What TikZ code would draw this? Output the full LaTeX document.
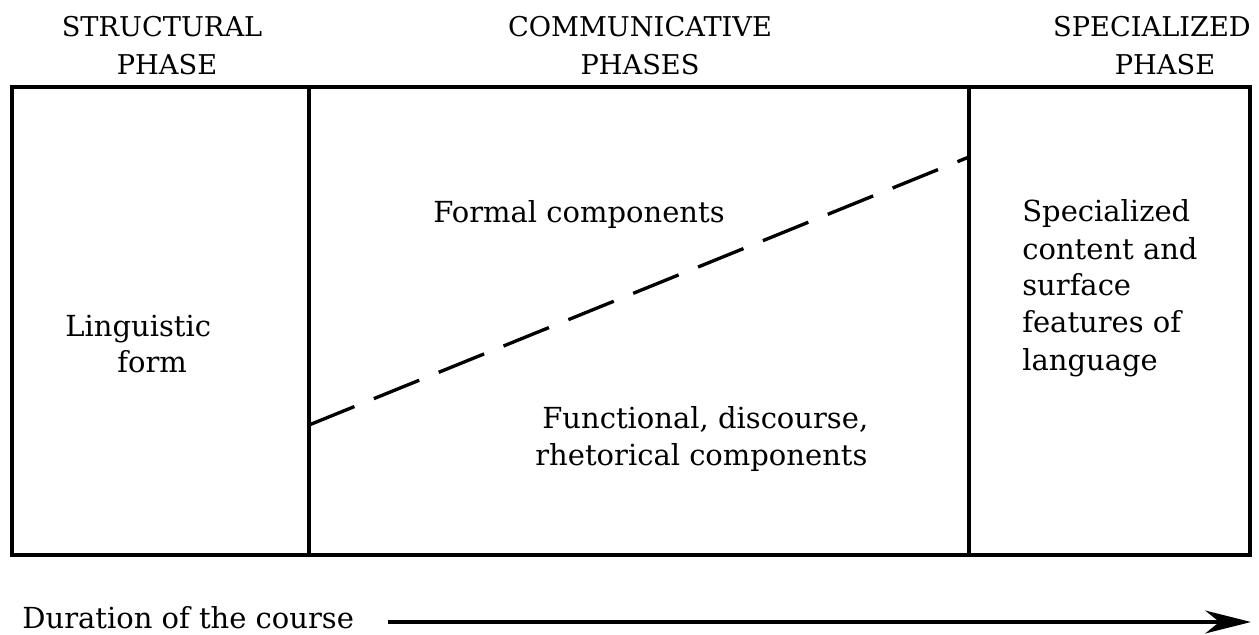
\documentclass[tikz,border=0pt]{standalone}
\usepackage{fontspec}
\setmainfont{DejaVu Serif}
\usetikzlibrary{arrows.meta,positioning}

\begin{document}
\begin{tikzpicture}[x=0.02cm, y=-0.02cm, >={Stealth[length=26pt,width=13pt,inset=8pt]},
    frame/.style={line width=1.9pt},
    txt/.style={inner sep=0pt, anchor=base west, font=\fontsize{16.5}{20}\selectfont},
    head/.style={inner sep=0pt, anchor=base, font=\fontsize{15.5}{20}\selectfont}]
    \useasboundingbox (0,0) rectangle (1259,635);
    % phase headings
    \node[head] (h1a) at (162,37) {STRUCTURAL};
    \node[head] (h1b) at (167,75) {PHASE};
    \node[head] (h2a) at (640,37) {COMMUNICATIVE};
    \node[head] (h2b) at (640,75) {PHASES};
    \node[head] (h3a) at (1152,37) {SPECIALIZED};
    \node[head] (h3b) at (1165,75) {PHASE};
    % frame and column dividers
    \coordinate (nw) at (12,87);
    \coordinate (se) at (1250,555);
    \coordinate (d1n) at (309,87);
    \coordinate (d1s) at (309,555);
    \coordinate (d2n) at (969,87);
    \coordinate (d2s) at (969,555);
    \draw[frame] (nw) rectangle (se);
    \draw[frame] (d1n) -- (d1s);
    \draw[frame] (d2n) -- (d2s);
    % boundary between formal and functional components
    \coordinate (cutl) at (309,425);
    \coordinate (cutr) at (969,157);
    \draw[frame, dash pattern=on 0.98cm off 0.42cm] (cutl) -- (cutr);
    % column texts
    \node[txt] (ling) at (65,337) {Linguistic};
    \node[txt] (form) at (117,372) {form};
    \node[txt] (formal) at (433,223) {Formal components};
    \node[txt] (func) at (542,428) {Functional, discourse,};
    \node[txt] (rhet) at (535,465) {rhetorical components};
    \foreach \t [count=\i] in {Specialized, content and, surface, features of, language} {
        \node[txt] (spec\i) at (1022, 185+37*\i) {\t};
    }
    % time axis
    \node[txt] (dur) at (22,628) {Duration of the course};
    \coordinate (tend) at (1251,622);
    \draw[line width=2.4pt, ->] (dur.east |- tend) ++(34,0) -- (tend);
\end{tikzpicture}
\end{document}
